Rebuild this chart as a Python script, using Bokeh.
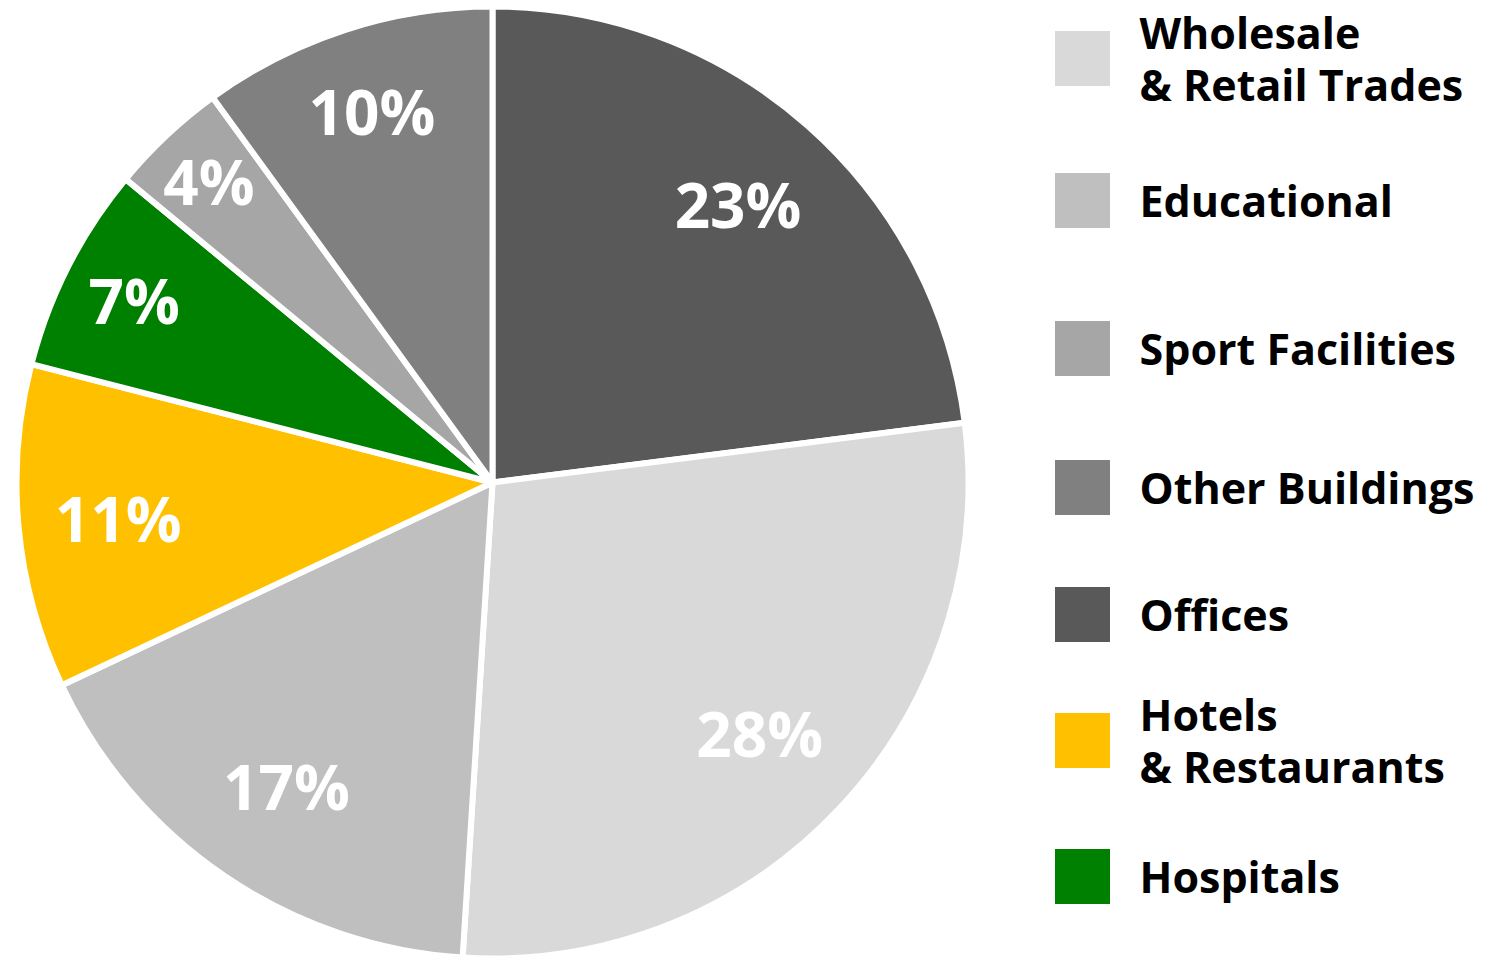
import math
from bokeh.plotting import figure
from bokeh.models import Range1d, ColumnDataSource
from bokeh.core.properties import value
from bokeh.embed import file_html
from bokeh.resources import INLINE

# ---- data (pie order, clockwise from 12 o'clock) ----
categories = ["Offices", "Wholesale\n& Retail Trades", "Educational", "Hotels\n& Restaurants",
              "Hospitals", "Sport Facilities", "Other Buildings"]
shares = [23, 28, 17, 11, 7, 4, 10]
colors = ["#595959", "#d9d9d9", "#bfbfbf", "#ffc000", "#008000", "#a6a6a6", "#808080"]

# legend order
legend_order = ["Wholesale\n& Retail Trades", "Educational", "Sport Facilities", "Other Buildings",
                "Offices", "Hotels\n& Restaurants", "Hospitals"]

# ---- layout (screen pixel coordinates of the picture) ----
W, H = 1488, 960
CX, CY, R = 492, 482, 476
label_r = [0.78, 0.77, 0.77, 0.79, 0.845, 0.87, 0.82]
LEG_X_SQ, LEG_SQ = 1082, 55
LEG_X_TXT = 1139
LEG_ROW_Y = [58, 200, 348, 487, 614, 740, 876]
FONT = "Open Sans"

def fy(sy):
    # screen y -> data y (y up)
    return H - sy

p = figure(width=W, height=H, output_backend="svg", toolbar_location=None,
           x_range=Range1d(0, W), y_range=Range1d(0, H),
           min_border=0)
p.axis.visible = False
p.grid.visible = False
p.outline_line_color = None
p.background_fill_color = "white"
p.border_fill_color = "white"

total = float(sum(shares))
starts, ends, lx, ly, labels = [], [], [], [], []
cum = 0.0
for i, s in enumerate(shares):
    a0 = math.pi / 2 - 2 * math.pi * cum / total
    cum += s
    a1 = math.pi / 2 - 2 * math.pi * cum / total
    starts.append(a0)
    ends.append(a1)
    mid = (a0 + a1) / 2
    lx.append(CX + label_r[i] * R * math.cos(mid))
    ly.append(fy(CY) + label_r[i] * R * math.sin(mid))
    labels.append(f"{s}%")

src = ColumnDataSource(dict(start=starts, end=ends, color=colors, lx=lx, ly=ly, label=labels))
p.wedge(x=CX, y=fy(CY), radius=R, start_angle="start", end_angle="end", direction="clock",
        fill_color="color", line_color="white", line_width=6, source=src)
p.text(x="lx", y="ly", text="label", source=src, text_color="white",
       text_font=value(FONT), text_font_style="bold", text_font_size="62px",
       text_align="center", text_baseline="middle")

# legend
n = len(legend_order)
sq_x, sq_y, sq_c, t_y, t_txt = [], [], [], [], []
for j, name in enumerate(legend_order):
    k = categories.index(name)
    yy = fy(LEG_ROW_Y[j])
    sq_x.append(LEG_X_SQ)
    sq_y.append(yy)
    sq_c.append(colors[k])
    t_y.append(yy)
    t_txt.append(name)

lsrc = ColumnDataSource(dict(x=sq_x, y=sq_y, c=sq_c, ty=t_y, t=t_txt, tx=[LEG_X_TXT] * n))
p.rect(x="x", y="y", width=LEG_SQ, height=LEG_SQ, fill_color="c", line_color=None, source=lsrc)
p.text(x="tx", y="ty", text="t", source=lsrc, text_color="black",
       text_font=value(FONT), text_font_style="bold", text_font_size="43px",
       text_align="left", text_baseline="middle", text_line_height=0.88)

open("out.html", "w").write(file_html(p, INLINE))
